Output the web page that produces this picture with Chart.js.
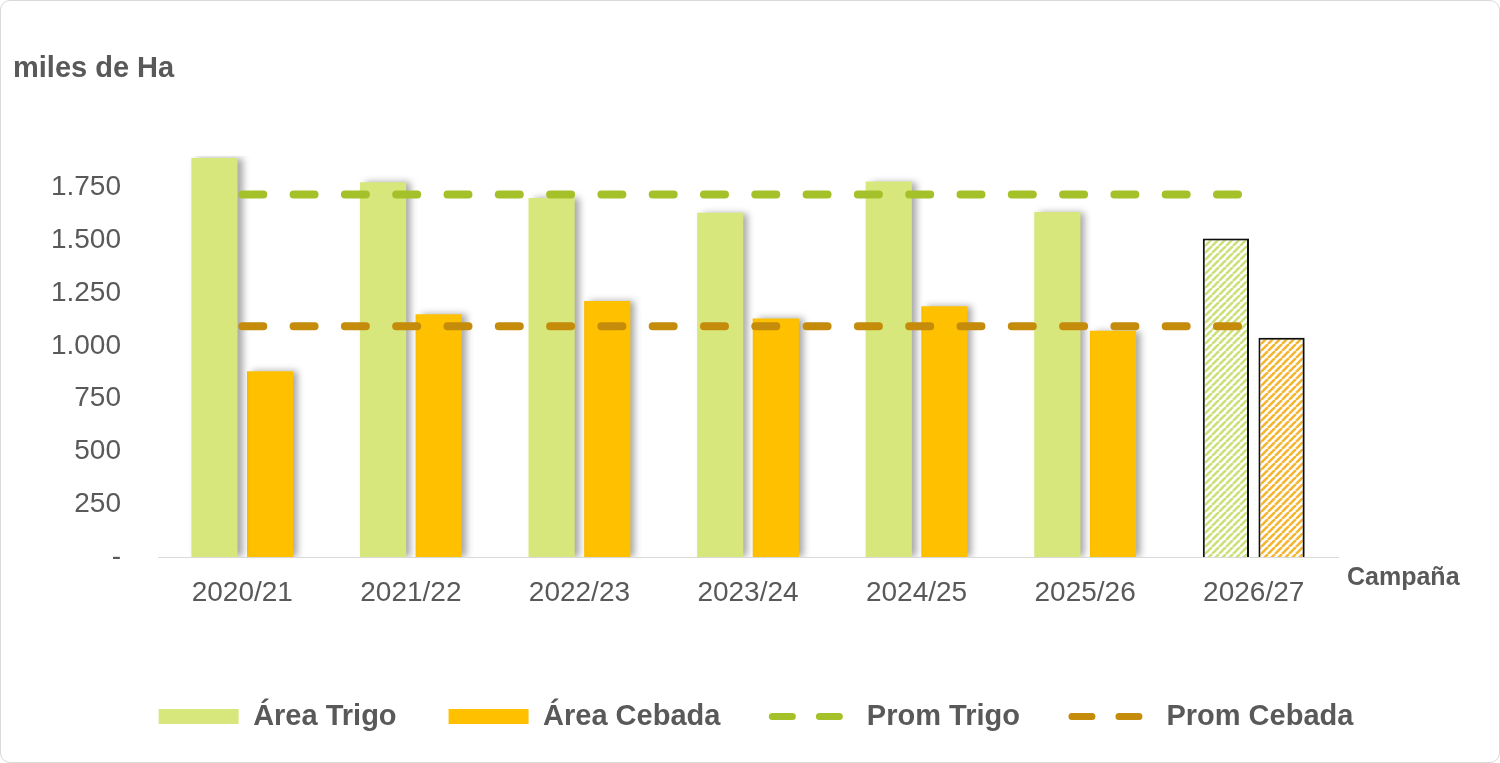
<!DOCTYPE html>
<html>
<head>
<meta charset="utf-8">
<script src="https://cdn.jsdelivr.net/npm/chart.js@4.4.1/dist/chart.umd.min.js"></script>
<style>
  html, body { margin: 0; padding: 0; background: #fff; }
  #wrap {
    position: absolute; left: 0; top: 0;
    width: 1498px; height: 761px;
    border: 1px solid #d9d9d9; border-radius: 10px;
    overflow: hidden;
  }
  canvas { display: block; }
</style>
</head>
<body>
<div id="wrap"><canvas id="myChart" width="1498" height="761"></canvas></div>
<script>
/* globals Chart:false */

// Datos (miles de Ha)
const campanas = ['2020/21', '2021/22', '2022/23', '2023/24', '2024/25', '2025/26', '2026/27']
const areaTrigo = [1890, 1775, 1700, 1630, 1778, 1634, 1508]
const areaCebada = [880, 1150, 1212, 1130, 1188, 1072, 1038]
const promTrigo = [1717, 1717, 1717, 1717, 1717, 1717, 1717]
const promCebada = [1093, 1093, 1093, 1093, 1093, 1093, 1093]
const yTicks = [0, 250, 500, 750, 1000, 1250, 1500, 1750];

(() => {
  'use strict'

  const gris = '#595959'
  const verde = '#D8E77B'
  const naranja = '#FFC000'
  const fuente = '"Liberation Sans", Arial, sans-serif'

  // rayado para la campaña proyectada
  function rayado (color) {
    const s = 7
    const c = document.createElement('canvas')
    c.width = s
    c.height = s
    const g = c.getContext('2d')
    g.fillStyle = '#fff'
    g.fillRect(0, 0, s, s)
    g.strokeStyle = color
    g.lineWidth = 2.6
    for (let k = -1; k <= 1; k++) {
      g.beginPath()
      g.moveTo(k * s, s)
      g.lineTo(k * s + s, 0)
      g.stroke()
    }
    return g.createPattern(c, 'repeat')
  }

  const ultimo = campanas.length - 1
  const colTrigo = campanas.map((c, i) => i === ultimo ? rayado('#CCE07A') : verde)
  const colCebada = campanas.map((c, i) => i === ultimo ? rayado('#F4B531') : naranja)
  const bordes = campanas.map((c, i) => i === ultimo ? 2 : 0)

  // sombra de las barras
  const sombra = {
    id: 'sombra',
    beforeDatasetDraw (chart, args) {
      if (args.meta.type !== 'bar') return
      const ctx = chart.ctx
      ctx.save()
      ctx.shadowColor = 'rgba(0,0,0,0.35)'
      ctx.shadowBlur = 7
      ctx.shadowOffsetX = 5
      ctx.shadowOffsetY = 0
    },
    afterDatasetDraw (chart, args) {
      if (args.meta.type !== 'bar') return
      chart.ctx.restore()
    }
  }

  // rótulo del eje x
  const rotuloX = {
    id: 'rotuloX',
    afterDraw (chart) {
      const { ctx, chartArea } = chart
      ctx.save()
      ctx.font = 'bold 25px ' + fuente
      ctx.fillStyle = gris
      ctx.textAlign = 'left'
      ctx.textBaseline = 'middle'
      ctx.fillText('Campaña', chartArea.right + 9, chartArea.bottom + 21)
      ctx.restore()
    }
  }

  const defLabels = Chart.defaults.plugins.legend.labels.generateLabels

  const ctx = document.getElementById('myChart')

  // eslint-disable-next-line no-unused-vars
  const myChart = new Chart(ctx, {
    type: 'bar',
    plugins: [sombra, rotuloX],
    data: {
      labels: campanas,
      datasets: [{
        label: 'Área Trigo',
        data: areaTrigo,
        backgroundColor: colTrigo,
        borderColor: '#111',
        borderWidth: bordes,
        order: 2,
      }, {
        label: 'Área Cebada',
        data: areaCebada,
        backgroundColor: colCebada,
        borderColor: '#111',
        borderWidth: bordes,
        order: 2,
      }, {
        type: 'line',
        label: 'Prom Trigo',
        data: promTrigo,
        borderColor: '#A5C12A',
        backgroundColor: '#A5C12A',
        borderWidth: 8,
        borderDash: [21, 30.3],
        borderCapStyle: 'round',
        pointRadius: 0,
        fill: false,
        order: 1,
      }, {
        type: 'line',
        label: 'Prom Cebada',
        data: promCebada,
        borderColor: '#C48C0A',
        backgroundColor: '#C48C0A',
        borderWidth: 8,
        borderDash: [21, 30.3],
        borderCapStyle: 'round',
        pointRadius: 0,
        fill: false,
        order: 1,
      }]
    },
    options: {
      responsive: false,
      animation: false,
      datasets: {
        bar: {
          categoryPercentage: 0.66,
          barPercentage: 0.83,
        }
      },
      layout: {
        padding: { left: 12, right: 0, top: 0, bottom: 21 }
      },
      plugins: {
        title: {
          display: true,
          text: 'miles de Ha',
          align: 'start',
          color: gris,
          font: { family: fuente, size: 29, weight: 'bold' },
          padding: { top: 51, bottom: 69 },
        },
        legend: {
          position: 'bottom',
          labels: {
            usePointStyle: true,
            pointStyleWidth: 80,
            boxHeight: 15,
            padding: 52,
            color: gris,
            font: { family: fuente, size: 29, weight: 'bold' },
            sort: (a, b) => a.datasetIndex - b.datasetIndex,
            generateLabels (chart) {
              const items = defLabels(chart)
              items.forEach(it => {
                const ds = chart.data.datasets[it.datasetIndex]
                if (ds.type === 'line') {
                  it.pointStyle = 'line'
                  it.lineDash = [20, 27]
                  it.lineWidth = 7
                  it.lineCap = 'round'
                } else {
                  it.pointStyle = 'rect'
                  it.lineWidth = 0
                }
              })
              return items
            }
          }
        },
        tooltip: { enabled: false },
      },
      scales: {
        x: {
          grid: { display: false, drawTicks: false },
          border: { display: true, color: '#D9D9D9', width: 1 },
          ticks: {
            color: gris,
            padding: 19,
            font: { family: fuente, size: 28 },
          },
          afterFit (scale) { scale.height = 93 },
        },
        y: {
          min: 0,
          max: 1900,
          grid: { display: false, drawTicks: false },
          border: { display: false },
          afterBuildTicks (scale) {
            scale.ticks = yTicks.map(v => ({ value: v }))
          },
          afterFit (scale) { scale.width = 145 },
          ticks: {
            color: gris,
            padding: 37,
            font: { family: fuente, size: 28 },
            callback: v => v === 0 ? '-' : v.toLocaleString('de-DE'),
          },
        },
        // espacio a la derecha para el rótulo "Campaña"
        margen: {
          position: 'right',
          grid: { display: false, drawTicks: false },
          border: { display: false },
          ticks: { display: false },
          afterFit (scale) { scale.width = 161 },
        },
      },
    }
  })
})()
</script>
</body>
</html>
